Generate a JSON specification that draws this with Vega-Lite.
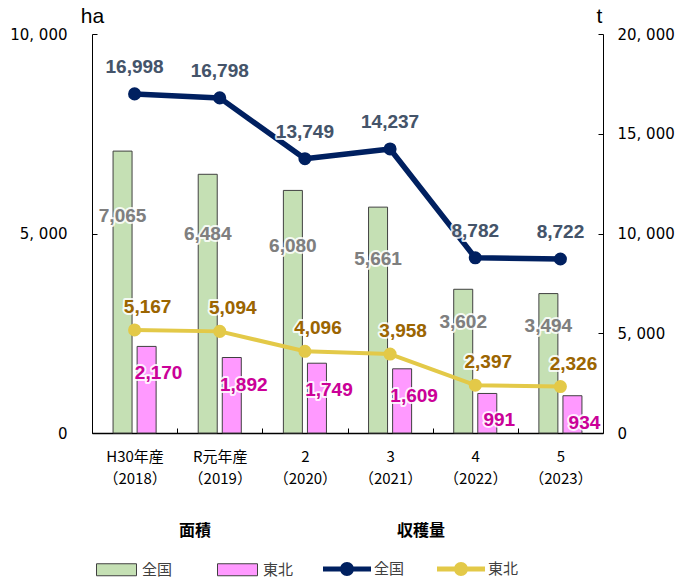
{
  "$schema": "https://vega.github.io/schema/vega-lite/v6.json",
  "width": 511,
  "height": 399,
  "autosize": "none",
  "padding": {"left": 92, "top": 34, "right": 86, "bottom": 147},
  "background": "white",
  "config": {"view": {"stroke": null}, "font": "Noto Sans CJK JP"},
  "data": {
    "values": [
      {"cat": "H30年産\n（2018）", "series": "全国", "area": 7065, "harvest": 16998},
      {"cat": "R元年産\n（2019）", "series": "全国", "area": 6484, "harvest": 16798},
      {"cat": "2\n（2020）", "series": "全国", "area": 6080, "harvest": 13749},
      {"cat": "3\n（2021）", "series": "全国", "area": 5661, "harvest": 14237},
      {"cat": "4\n（2022）", "series": "全国", "area": 3602, "harvest": 8782},
      {"cat": "5\n（2023）", "series": "全国", "area": 3494, "harvest": 8722},
      {"cat": "H30年産\n（2018）", "series": "東北", "area": 2170, "harvest": 5167},
      {"cat": "R元年産\n（2019）", "series": "東北", "area": 1892, "harvest": 5094},
      {"cat": "2\n（2020）", "series": "東北", "area": 1749, "harvest": 4096},
      {"cat": "3\n（2021）", "series": "東北", "area": 1609, "harvest": 3958},
      {"cat": "4\n（2022）", "series": "東北", "area": 991, "harvest": 2397},
      {"cat": "5\n（2023）", "series": "東北", "area": 934, "harvest": 2326}
    ]
  },
  "encoding": {
    "x": {
      "field": "cat",
      "type": "nominal",
      "sort": null,
      "scale": {"paddingInner": 0, "paddingOuter": 0},
      "axis": {
        "title": null,
        "labelExpr": "split(datum.label, '\\n')",
        "labelFont": "Noto Sans CJK JP",
        "labelFontSize": 15,
        "labelLineHeight": 22,
        "labelColor": "#000",
        "labelAngle": 0,
        "tickSize": -5,
        "tickOffset": -42.583,
        "labelOffset": 42.583,
        "labelPadding": 21,
        "domainWidth": 1.5,
        "domainColor": "#000",
        "tickColor": "#000",
        "grid": false
      }
    }
  },
  "layer": [
    {
      "encoding": {
        "y": {
          "field": "area",
          "type": "quantitative",
          "scale": {"domain": [0, 10000], "nice": false},
          "axis": {
            "orient": "left",
            "values": [0, 5000, 10000],
            "title": "ha",
            "titleAngle": 0,
            "titleX": 0,
            "titleY": -12,
            "titleAlign": "center",
            "titleBaseline": "alphabetic",
            "titleFont": "Liberation Sans",
            "titleFontSize": 21,
            "titleFontWeight": "normal",
            "titleColor": "#000",
            "labelExpr": "replace(format(datum.value, ','), ',', ', ')",
            "labelFont": "DejaVu Sans",
            "labelFontSize": 15,
            "labelColor": "#000",
            "labelPadding": 30,
            "tickSize": -5,
            "tickColor": "#000",
            "domainColor": "#000",
            "grid": false
          }
        },
        "xOffset": {
          "field": "series",
          "type": "nominal",
          "sort": ["全国", "東北"],
          "scale": {"paddingInner": 0.21, "paddingOuter": 0.875}
        }
      },
      "layer": [
        {
          "mark": {"type": "bar", "stroke": "#404040", "strokeWidth": 1},
          "encoding": {
            "fill": {
              "field": "series",
              "type": "nominal",
              "scale": {"domain": ["全国", "東北"], "range": ["#C5E0B4", "#FF99FF"]},
              "legend": {
                "title": "面積",
                "orient": "none",
                "legendX": 4,
                "legendY": 489,
                "direction": "horizontal",
                "titleAnchor": "middle",
                "titleFont": "Noto Sans CJK JP",
                "titleFontSize": 16,
                "titleFontWeight": "bold",
                "titleColor": "#000",
                "titlePadding": 10,
                "symbolType": "M-1,-0.3H1V0.3H-1Z",
                "symbolSize": 1600,
                "symbolStrokeColor": "#404040",
                "symbolStrokeWidth": 1,
                "labelFont": "Noto Sans CJK JP",
                "labelFontSize": 15,
                "labelColor": "#404040",
                "labelOffset": 5,
                "columnPadding": 42,
                "padding": 0
              }
            }
          }
        },
        {
          "transform": [{"filter": "datum.series === '全国'"}],
          "mark": {"type": "text", "font": "Liberation Sans", "fontSize": 19, "fontWeight": "bold", "baseline": "middle", "dy": {"expr": "0.23 * datum.area * height / 10000"}, "stroke": "white", "strokeWidth": 4, "strokeJoin": "round", "strokeOpacity": 0.85},
          "encoding": {"text": {"field": "area", "format": ","}}
        },
        {
          "transform": [{"filter": "datum.series === '全国'"}],
          "mark": {"type": "text", "font": "Liberation Sans", "fontSize": 19, "fontWeight": "bold", "baseline": "middle", "dy": {"expr": "0.23 * datum.area * height / 10000"}, "fill": "#7F7F7F"},
          "encoding": {"text": {"field": "area", "format": ","}}
        },
        {
          "transform": [{"filter": "datum.series === '東北'"}],
          "mark": {"type": "text", "font": "Liberation Sans", "fontSize": 19, "fontWeight": "bold", "baseline": "middle", "dx": 12, "dy": 27, "stroke": "white", "strokeWidth": 4, "strokeJoin": "round", "strokeOpacity": 0.85},
          "encoding": {"text": {"field": "area", "format": ","}}
        },
        {
          "transform": [{"filter": "datum.series === '東北'"}],
          "mark": {"type": "text", "font": "Liberation Sans", "fontSize": 19, "fontWeight": "bold", "baseline": "middle", "dx": 12, "dy": 27, "fill": "#CC0099"},
          "encoding": {"text": {"field": "area", "format": ","}}
        }
      ]
    },
    {
      "encoding": {
        "y": {
          "field": "harvest",
          "type": "quantitative",
          "scale": {"domain": [0, 20000], "nice": false},
          "axis": {
            "orient": "right",
            "values": [0, 5000, 10000, 15000, 20000],
            "title": "t",
            "titleAngle": 0,
            "titleX": -4,
            "titleY": -12,
            "titleAlign": "center",
            "titleBaseline": "alphabetic",
            "titleFont": "Liberation Sans",
            "titleFontSize": 21,
            "titleFontWeight": "normal",
            "titleColor": "#000",
            "labelExpr": "replace(format(datum.value, ','), ',', ', ')",
            "labelFont": "DejaVu Sans",
            "labelFontSize": 15,
            "labelColor": "#000",
            "labelPadding": 19,
            "tickSize": -5,
            "tickColor": "#000",
            "domainColor": "#000",
            "grid": false
          }
        }
      },
      "layer": [
        {
          "mark": {"type": "line", "strokeCap": "round", "strokeJoin": "round"},
          "encoding": {
            "color": {
              "field": "series",
              "type": "nominal",
              "sort": ["全国", "東北"],
              "scale": {"range": ["#002060", "#E3C948"]},
              "legend": {
                "title": "収穫量",
                "orient": "none",
                "legendX": 231,
                "legendY": 489,
                "direction": "horizontal",
                "titleAnchor": "middle",
                "titleFont": "Noto Sans CJK JP",
                "titleFontSize": 16,
                "titleFontWeight": "bold",
                "titleColor": "#000",
                "titlePadding": 6,
                "symbolType": "M-1,-0.1H1V0.1H-1Z M0.29,0A0.29,0.29,0,1,1,-0.29,0A0.29,0.29,0,1,1,0.29,0Z",
                "symbolSize": 2304,
                "symbolStrokeWidth": 0,
                "labelFont": "Noto Sans CJK JP",
                "labelFontSize": 15,
                "labelColor": "#404040",
                "labelOffset": 3,
                "columnPadding": 32,
                "padding": 0,
                "encode": {"symbols": {"update": {"fill": {"scale": "color", "field": "value"}, "stroke": {"value": "transparent"}}}}
              }
            },
            "strokeWidth": {"condition": {"test": "datum.series === '全国'", "value": 5.5}, "value": 4}
          }
        },
        {
          "mark": {"type": "point", "filled": true, "size": 170, "opacity": 1, "shape": "circle"},
          "encoding": {"color": {"field": "series", "type": "nominal", "sort": ["全国", "東北"], "legend": null}}
        },
        {
          "transform": [{"filter": "datum.series === '全国'"}],
          "mark": {"type": "text", "font": "Liberation Sans", "fontSize": 19, "fontWeight": "bold", "baseline": "middle", "dy": -27, "stroke": "white", "strokeWidth": 4, "strokeJoin": "round", "strokeOpacity": 0.85},
          "encoding": {"text": {"field": "harvest", "format": ","}}
        },
        {
          "transform": [{"filter": "datum.series === '全国'"}],
          "mark": {"type": "text", "font": "Liberation Sans", "fontSize": 19, "fontWeight": "bold", "baseline": "middle", "dy": -27, "fill": "#44546A"},
          "encoding": {"text": {"field": "harvest", "format": ","}}
        },
        {
          "transform": [{"filter": "datum.series === '東北'"}],
          "mark": {"type": "text", "font": "Liberation Sans", "fontSize": 19, "fontWeight": "bold", "baseline": "middle", "dx": 13, "dy": -23, "stroke": "white", "strokeWidth": 4, "strokeJoin": "round", "strokeOpacity": 0.85},
          "encoding": {"text": {"field": "harvest", "format": ","}}
        },
        {
          "transform": [{"filter": "datum.series === '東北'"}],
          "mark": {"type": "text", "font": "Liberation Sans", "fontSize": 19, "fontWeight": "bold", "baseline": "middle", "dx": 13, "dy": -23, "fill": "#9C6500"},
          "encoding": {"text": {"field": "harvest", "format": ","}}
        }
      ]
    }
  ],
  "resolve": {"scale": {"y": "independent"}}
}
